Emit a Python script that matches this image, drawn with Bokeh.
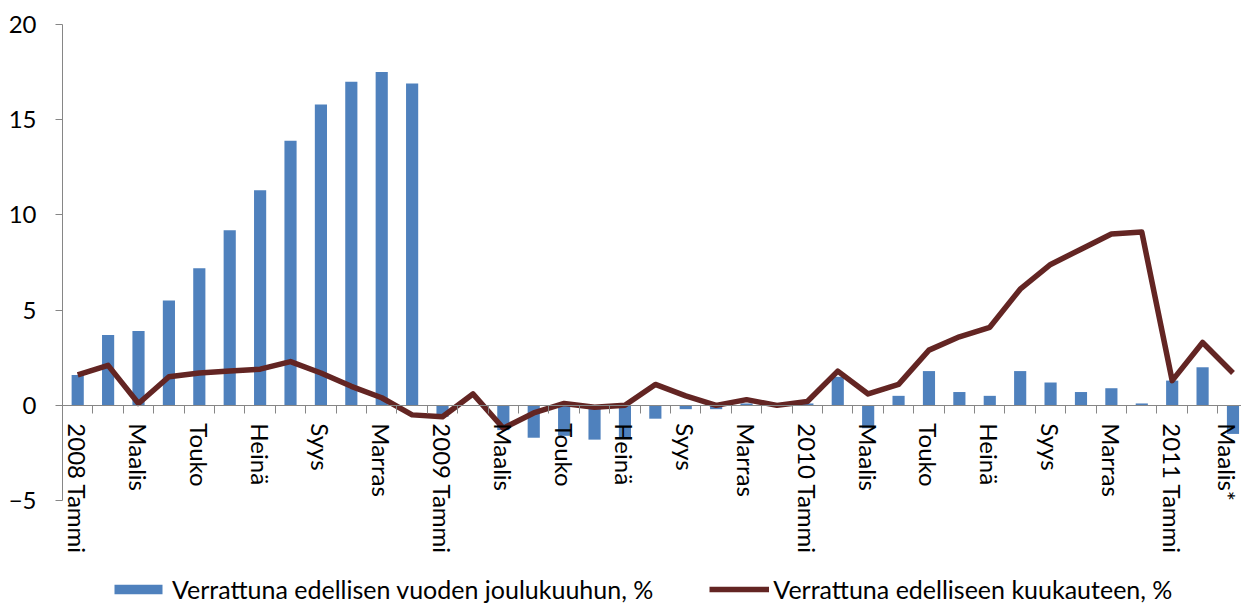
from bokeh.plotting import figure
from bokeh.models import Range1d, LinearAxis, FixedTicker, Legend, LegendItem
from bokeh.embed import file_html
from bokeh.resources import INLINE

# ---- data ----
months = ["2008 Tammi", "Helmi", "Maalis", "Huhti", "Touko", "Kesä", "Heinä", "Elo", "Syys", "Loka", "Marras", "Joulu",
          "2009 Tammi", "Helmi", "Maalis", "Huhti", "Touko", "Kesä", "Heinä", "Elo", "Syys", "Loka", "Marras", "Joulu",
          "2010 Tammi", "Helmi", "Maalis", "Huhti", "Touko", "Kesä", "Heinä", "Elo", "Syys", "Loka", "Marras", "Joulu",
          "2011 Tammi", "Helmi", "Maalis*"]

vs_december = [1.6, 3.7, 3.9, 5.5, 7.2, 9.2, 11.3, 13.9, 15.8, 17.0, 17.5, 16.9,
               -0.6, 0.0, -1.3, -1.7, -1.6, -1.8, -1.7, -0.7, -0.2, -0.2, 0.1, 0.0,
               0.1, 1.5, -1.2, 0.5, 1.8, 0.7, 0.5, 1.8, 1.2, 0.7, 0.9, 0.1,
               1.3, 2.0, -1.5]

vs_prev_month = [1.6, 2.1, 0.1, 1.5, 1.7, 1.8, 1.9, 2.3, 1.7, 1.0, 0.4, -0.5,
                 -0.6, 0.6, -1.2, -0.4, 0.1, -0.1, 0.0, 1.1, 0.5, 0.0, 0.3, 0.0,
                 0.2, 1.8, 0.6, 1.1, 2.9, 3.6, 4.1, 6.1, 7.4, 8.2, 9.0, 9.1,
                 1.3, 3.3, 1.7]

series_names = ["Verrattuna edellisen vuoden joulukuuhun, %", "Verrattuna edelliseen kuukauteen, %"]
y_ticks = [-5, 0, 5, 10, 15, 20]

FONT = "Lato"
FS = "24px"
LEGEND_FS = "25px"
AXIS_GRAY = "#868686"
BAR_COLOR = "#4F81BD"
LINE_COLOR = "#632523"

xs = list(range(len(months)))

# frame extends below -5 so that the category labels and legend are not clipped;
# the y axis itself is bounded to [-5, 20]
p = figure(width=1241, height=605, output_backend="svg", toolbar_location=None,
           x_range=Range1d(-0.5, 38.28), y_range=Range1d(-10.51, 20),
           x_axis_type=None,
           min_border_left=62, min_border_right=0, min_border_top=24, min_border_bottom=0)
p.outline_line_color = None
p.xgrid.visible = False
p.ygrid.visible = False

bars = p.vbar(x=xs, top=vs_december, bottom=0, width=0.4, fill_color=BAR_COLOR, line_color=None)
line = p.line(x=xs, y=vs_prev_month, line_width=5.5, line_color=LINE_COLOR, line_join="round")

# y axis
ya = p.yaxis[0]
ya.ticker = FixedTicker(ticks=y_ticks)
ya.bounds = (min(y_ticks), max(y_ticks))
ya.axis_line_color = AXIS_GRAY
ya.major_tick_line_color = AXIS_GRAY
ya.major_tick_in = 0
ya.major_tick_out = 7
ya.minor_tick_line_color = None
ya.major_label_text_font = FONT
ya.major_label_text_font_size = FS
ya.major_label_text_color = "black"
ya.major_label_standoff = 19

# x axis at zero: tick marks at category boundaries
tick_axis = LinearAxis(ticker=FixedTicker(ticks=[i - 0.5 for i in range(len(months) + 1)]),
                       fixed_location=0, axis_line_color=AXIS_GRAY, major_tick_line_color=AXIS_GRAY,
                       major_tick_in=0, major_tick_out=8, minor_tick_line_color=None,
                       major_label_text_color=None)
p.add_layout(tick_axis, "below")

# labels for every other category
label_pos = [float(i) for i in xs if i % 2 == 0]
label_axis = LinearAxis(ticker=FixedTicker(ticks=label_pos), fixed_location=0,
                        axis_line_color=None, major_tick_line_color=None, minor_tick_line_color=None,
                        major_label_overrides={float(i): months[i] for i in xs if i % 2 == 0},
                        major_label_orientation="vertical", major_label_standoff=12,
                        major_label_text_font=FONT, major_label_text_font_size=FS,
                        major_label_text_color="black")
p.add_layout(label_axis, "below")

legend = Legend(items=[LegendItem(label=series_names[0], renderers=[bars]),
                       LegendItem(label=series_names[1], renderers=[line])],
                location=(46, 1), orientation="horizontal",
                glyph_width=60, glyph_height=12, label_standoff=4, spacing=56,
                padding=0, margin=0, border_line_color=None, background_fill_alpha=0,
                label_text_font=FONT, label_text_font_size=LEGEND_FS, label_text_color="black")
p.add_layout(legend)

open("out.html", "w").write(file_html(p, INLINE))
